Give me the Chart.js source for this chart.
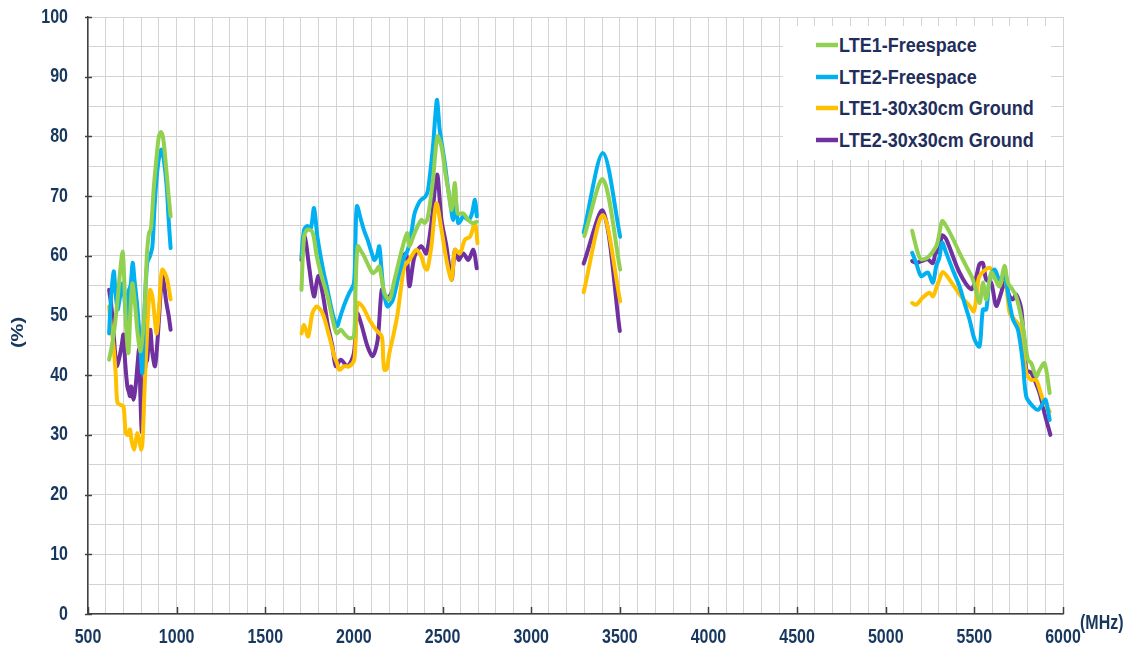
<!DOCTYPE html>
<html>
<head>
<meta charset="utf-8">
<script src="https://cdn.jsdelivr.net/npm/chart.js@4.4.1/dist/chart.umd.min.js"></script>
<style>
  body { margin: 0; background: #fff; }
  #wrap { position: relative; width: 1127px; height: 652px; }
  #legend {
    position: absolute; left: 783px; top: 26px; width: 268px; height: 134px;
    background: #fff; font: bold 18px "Liberation Sans", Arial, sans-serif; color: #1f2f5c;
  }
  #legend .item { position: absolute; left: 33px; height: 20px; line-height: 20px; white-space: nowrap; transform: scaleY(1.12); transform-origin: left center; }
  #legend .swatch { display: inline-block; width: 22px; height: 4px; vertical-align: middle; margin-right: 1px; position: relative; top: -1px; }
</style>
</head>
<body>
<div id="wrap">
  <canvas id="chart" width="1127" height="652"></canvas>
  <div id="legend"></div>
</div>
<script>
// series: frequency (MHz) and efficiency (%) -- null marks a gap between bands
const lte1FreeMHz = [619,635,650,668,680,695,703,715,728,738,750,765,780,795,806,818,832,844,855,870,885,900,912,925,940,955,966,
  1300,
  1704,1719,1738,1766,1790,1813,1851,1889,1904,1926,1950,1974,2000,2010,2021,2040,2058,2080,2106,2125,2143,2172,2200,2225,2247,2275,2300,2313,2342,2380,2399,2418,2446,2471,2494,2515,2532,2551,2570,2585,2617,2645,2668,2693,
  3000,
  3300,3405,3502,
  4300,
  5149,5181,5200,5240,5285,5300,5318,5341,5380,5416,5455,5492,5529,5548,5567,5595,5620,5642,5670,5689,5712,5736,5774,5802,5821,5849,5868,5896,5925];
const lte1FreeVal = [42.6,45,48,53,57,60.7,57,48,43.7,50,55.4,52,47,44,46,50,60,63.8,64.5,71,76,80,80.7,79.5,75,70,66.6,
  null,
  54.3,63.2,64.4,64,60,57.1,53.2,48.2,47,47.6,46.8,46.2,46.5,55,61.6,60.8,59.9,58.5,57.1,57.5,58.2,53.8,52.6,55.5,58.2,61.5,63.8,61.6,63.8,66,65.5,66.6,72.7,80,78.3,74,71,67.7,72.2,67.1,67.1,66,65.5,65.7,
  null,
  63.3,72.8,57.7,
  null,
  64.2,60.5,59.4,59.8,61.6,63.3,65.8,65,62.8,60.5,58.2,56,52.1,55.5,52.7,57.2,56,54.9,58.3,55.5,54.5,53.2,48.2,42.6,42,39.8,40.9,42,37];

const lte2FreeMHz = [619,630,645,655,667,680,698,708,718,728,740,752,762,778,795,806,816,834,850,863,875,890,905,915,928,944,955,966,
  1300,
  1704,1719,1738,1757,1775,1794,1823,1851,1879,1904,1920,1936,1955,1974,2000,2008,2017,2040,2060,2077,2095,2115,2130,2143,2155,2168,2182,2191,2219,2256,2280,2304,2325,2342,2365,2380,2403,2418,2446,2458,2469,2484,2500,2513,2528,2541,2560,2573,2588,2600,2617,2645,2664,2683,2693,
  3000,
  3296,3405,3502,
  4300,
  5149,5172,5200,5237,5266,5285,5303,5318,5341,5380,5416,5445,5473,5501,5529,5548,5567,5586,5614,5642,5670,5699,5718,5746,5774,5793,5830,5859,5887,5902,5925];
const lte2FreeVal = [47,53,57.4,54,51,53,55.4,52,49.3,54,55,58.8,56,51.5,45,40.4,49.3,58.8,60,61.5,68,74,77.2,77.8,76,71.6,66,61.3,
  null,
  59.9,64.4,65,64.6,68,63.2,58.2,54.3,50.4,48.2,49.5,51,52.5,53.8,55.4,62,68.3,66,64,62.7,61,59.3,60,61.6,58,53.8,52,51.5,52.6,57.1,59.5,61,64,67.1,68.8,69.4,69.9,71,78.3,83,86.1,81.1,78,75.5,72,69.4,66,69.4,65.5,65.8,66.6,66,66.9,69.4,66.6,
  null,
  63.9,77.2,63.2,
  null,
  60.5,58.8,56.6,57.2,55.5,58.3,59.7,62.2,60.5,57.5,54.9,52,49.3,46,44.8,51,51,56,57.7,56,56.6,52,49.3,47.6,42,36.4,34.8,34.2,35.3,35.9,32.5];

const lte1GndMHz = [619,630,640,656,666,685,700,713,725,737,746,759,770,778,790,800,808,818,830,842,850,863,875,887,900,912,919,935,947,966,
  1300,
  1704,1719,1742,1766,1791,1823,1851,1870,1889,1905,1917,1945,1974,2002,2012,2021,2049,2087,2125,2157,2165,2172,2185,2200,2225,2247,2265,2285,2313,2351,2380,2400,2414,2437,2465,2494,2522,2551,2570,2598,2626,2655,2683,2697,
  3000,
  3296,3405,3502,
  4300,
  5149,5172,5209,5247,5266,5285,5300,5322,5360,5425,5473,5497,5514,5529,5586,5614,5642,5670,5699,5727,5755,5793,5821,5849,5887,5925];
const lte1GndVal = [51.5,48,46,40.4,35.4,35,34.8,30.3,30,30.9,29,27.5,29,30.3,29,27.5,29,37,45,52,54.3,53.2,50,47,51,56.5,57.7,57,56,52.7,
  null,
  47,48.4,46.5,50.4,51.5,50.4,47.6,45.5,43.2,42,40.9,41.5,41.5,42.6,48,52.1,51.5,49.3,47.6,46.5,43,40.9,41,43.7,47,50.4,54.5,58.2,59.3,61,59.9,58,57.7,61.6,68.8,64.4,59.3,56,61,60.4,62.7,63.2,65.5,62.1,
  null,
  53.9,66.8,52.4,
  null,
  52.1,51.8,53,53.8,53.2,54.6,55.8,57.3,56,53.2,51.6,50.7,53.8,56.6,58,56.6,54.9,57.2,50.4,49.3,48.2,40.4,39.2,39.2,35.9,33.9];

const lte2GndMHz = [619,630,640,652,662,675,690,700,710,722,732,737,744,756,768,780,788,796,803,808,816,826,834,845,852,863,878,890,900,910,919,930,940,955,966,
  1300,
  1704,1723,1747,1775,1798,1823,1851,1879,1898,1926,1964,2000,2017,2040,2077,2106,2134,2157,2176,2200,2228,2247,2294,2313,2342,2380,2408,2437,2469,2494,2522,2551,2570,2592,2617,2645,2674,2693,
  3000,
  3296,3405,3500,
  4300,
  5149,5172,5200,5237,5266,5285,5300,5318,5341,5416,5482,5507,5529,5548,5567,5595,5623,5651,5670,5699,5718,5736,5765,5793,5821,5840,5868,5896,5929];
const lte2GndVal = [54.3,52,49,44,41.5,42.7,45,46.8,42,38.1,37,36.5,38.1,35.9,38,42,44.3,36,30.5,31,39.3,42,42.6,46.5,47.6,43.7,41.5,45,49.3,54,56.6,55,52.5,50,47.6,
  null,
  59.3,63.2,58.2,53.2,56.6,53.8,48.7,44.8,41.5,42.6,41.5,43.7,50.4,48.7,44.8,43.2,45.9,54.3,53.2,53.2,54.9,57.1,60.4,54.9,59.9,61.6,60.4,65.5,73.6,66,61.6,56,61,59.3,60.4,59.3,61,57.9,
  null,
  58.7,67.5,47.4,
  null,
  59.1,58.8,59.1,59.4,58.8,61.1,60.5,63.4,62.8,57.2,54.4,56,58.6,58.8,56,55.5,51.6,53.8,55.5,53.2,52.7,53.5,51,40.9,40.4,39.2,37,33.6,30];

const seriesLabels = ['LTE1-Freespace', 'LTE2-Freespace', 'LTE1-30x30cm Ground', 'LTE2-30x30cm Ground'];
const seriesColors = ['#92d050', '#00b0f0', '#ffc000', '#7030a0'];
const xTicks = [500,1000,1500,2000,2500,3000,3500,4000,4500,5000,5500,6000];
const yTicks = [0,10,20,30,40,50,60,70,80,90,100];

const labelColor = '#17375e';
const stretch = 1.25; // the source text looks vertically stretched

function toPoints(xs, ys) {
  return xs.map((x, i) => ({ x: x, y: ys[i] }));
}

const allSeries = [
  toPoints(lte1FreeMHz, lte1FreeVal),
  toPoints(lte2FreeMHz, lte2FreeVal),
  toPoints(lte1GndMHz, lte1GndVal),
  toPoints(lte2GndMHz, lte2GndVal)
];

function tallText(ctx, txt, x, y) {
  ctx.save();
  ctx.translate(x, y);
  ctx.scale(1, stretch);
  ctx.fillText(txt, 0, 0);
  ctx.restore();
}

// tick marks, tick labels, "(%)" and "(MHz)"
const extras = {
  id: 'extras',
  afterDraw(chart) {
    const ctx = chart.ctx;
    const xs = chart.scales.x, ys = chart.scales.y;
    const area = chart.chartArea;
    ctx.save();
    ctx.strokeStyle = '#404040';
    ctx.lineWidth = 1.5;
    xTicks.forEach(v => {
      const px = Math.round(xs.getPixelForValue(v)) + 0.5;
      ctx.beginPath(); ctx.moveTo(px, area.bottom); ctx.lineTo(px, area.bottom - 7); ctx.stroke();
    });
    yTicks.forEach(v => {
      const py = Math.round(ys.getPixelForValue(v)) + 0.5;
      ctx.beginPath(); ctx.moveTo(area.left - 3, py); ctx.lineTo(area.left + 4, py); ctx.stroke();
    });

    ctx.fillStyle = labelColor;
    ctx.font = 'bold 16px "Liberation Sans"';
    ctx.textBaseline = 'middle';
    ctx.textAlign = 'center';
    xTicks.forEach(v => tallText(ctx, String(v), xs.getPixelForValue(v), area.bottom + 23));
    ctx.textAlign = 'right';
    yTicks.forEach(v => tallText(ctx, String(v), area.left - 20, ys.getPixelForValue(v)));

    ctx.textAlign = 'left';
    tallText(ctx, '(MHz)', area.right + 17, area.bottom + 9);

    ctx.translate(19, (area.top + area.bottom) / 2 + 17);
    ctx.rotate(-Math.PI / 2);
    ctx.scale(stretch, 1);
    ctx.textAlign = 'center';
    ctx.fillText('(%)', 0, 0);
    ctx.restore();
  }
};

const chart = new Chart(document.getElementById('chart'), {
  type: 'line',
  data: {
    datasets: allSeries.map((pts, i) => ({
      label: seriesLabels[i],
      data: pts,
      borderColor: seriesColors[i],
      backgroundColor: seriesColors[i],
      borderWidth: 4,
      pointRadius: 0,
      tension: 0.3,
      borderCapStyle: 'round',
      borderJoinStyle: 'round',
      spanGaps: false
    }))
  },
  options: {
    responsive: false,
    animation: false,
    devicePixelRatio: 1,
    layout: { padding: { top: 17, right: 64, left: 0, bottom: 0 } },
    plugins: { legend: { display: false }, tooltip: { enabled: false } },
    scales: {
      x: {
        type: 'linear', min: 500, max: 6000,
        afterFit(scale) { scale.height = 38; },
        ticks: { stepSize: 100, autoSkip: false, display: false },
        grid: { color: '#d3d3d3', lineWidth: 1, drawTicks: false },
        border: { display: true, color: '#404040', width: 1.5 }
      },
      y: {
        min: 0, max: 100,
        afterFit(scale) { scale.width = 88; },
        ticks: { stepSize: 5, autoSkip: false, display: false },
        grid: { color: '#d3d3d3', lineWidth: 1, drawTicks: false },
        border: { display: true, color: '#404040', width: 1.5 }
      }
    }
  },
  plugins: [extras]
});

// legend built from the chart's datasets
const legendEl = document.getElementById('legend');
chart.data.datasets.forEach((ds, i) => {
  const item = document.createElement('div');
  item.className = 'item';
  item.style.top = (9 + i * 31.7) + 'px';
  item.innerHTML = '<span class="swatch" style="background:' + ds.borderColor + '"></span>' + ds.label;
  legendEl.appendChild(item);
});
</script>
</body>
</html>
